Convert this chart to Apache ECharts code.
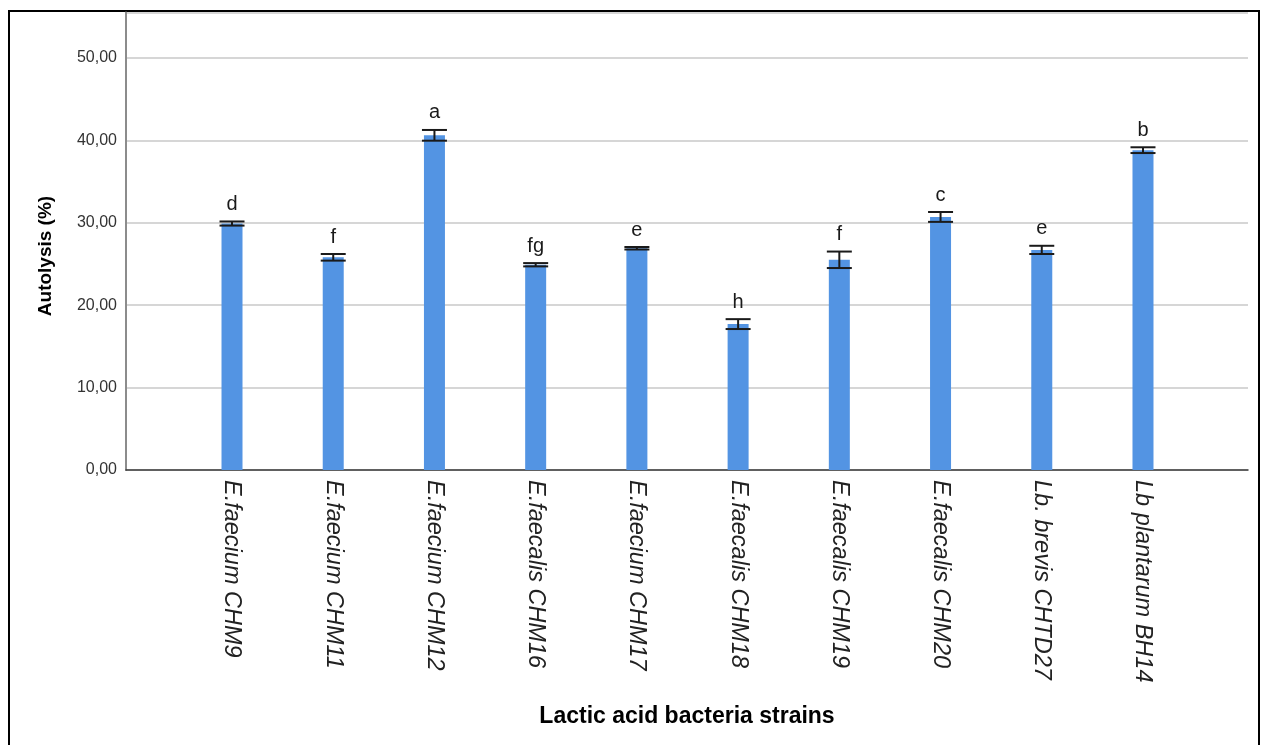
<!DOCTYPE html>
<html>
<head>
<meta charset="utf-8">
<title>Autolysis of lactic acid bacteria strains</title>
<script src="https://cdn.jsdelivr.net/npm/echarts@6/dist/echarts.min.js"></script>
<style>
  html, body { margin: 0; padding: 0; background: #ffffff; }
  #chart { width: 1266px; height: 745px; }
</style>
</head>
<body>
<div id="chart"></div>
<script>
// Strains on the x axis
const strains = [
  'E.faecium CHM9', 'E.faecium CHM11', 'E.faecium CHM12', 'E.faecalis CHM16',
  'E.faecium CHM17', 'E.faecalis CHM18', 'E.faecalis CHM19', 'E.faecalis CHM20',
  'Lb. brevis CHTD27', 'Lb plantarum BH14'
];
// Mean autolysis (%)
const autolysis = [29.9, 25.8, 40.6, 24.9, 26.9, 17.7, 25.5, 30.7, 26.7, 38.8];
// Error bar half-widths (%)
const errors = [0.25, 0.4, 0.65, 0.2, 0.15, 0.6, 1.0, 0.6, 0.5, 0.35];
// Significance letters above each bar
const groups = ['d', 'f', 'a', 'fg', 'e', 'h', 'f', 'c', 'e', 'b'];
// Y axis ticks
const yMin = 0, yMax = 55.5, yStep = 10;

const FONT = '"Liberation Sans", Arial, sans-serif';

const errorData = autolysis.map((v, i) => [i, v - errors[i], v + errors[i]]);

const chart = echarts.init(document.getElementById('chart'), null, { renderer: 'canvas' });

chart.setOption({
  animation: false,
  backgroundColor: '#ffffff',
  grid: [
    // full frame: y axis, gridlines and the baseline
    { left: 126, right: 18, top: 12.5, bottom: 275 },
    // bars sit in an inset band of categories
    { left: 181.4, right: 72.4, top: 12.5, bottom: 275 }
  ],
  xAxis: [
    {
      gridIndex: 0, type: 'value', min: 0, max: 1,
      axisLine: { show: true, onZero: false, lineStyle: { color: '#3a3a3a', width: 1.5 } },
      axisTick: { show: false }, axisLabel: { show: false }, splitLine: { show: false }
    },
    {
      gridIndex: 1, type: 'category', data: strains, boundaryGap: true,
      axisLine: { show: false }, axisTick: { show: false }, splitLine: { show: false },
      axisLabel: {
        interval: 0, rotate: -90, margin: 10,
        fontFamily: FONT, fontStyle: 'italic', fontSize: 23.5, color: '#222222'
      }
    }
  ],
  yAxis: [
    {
      gridIndex: 0, type: 'value', min: yMin, max: yMax, interval: yStep,
      axisLine: { show: true, lineStyle: { color: '#8c8c8c', width: 2 } },
      axisTick: { show: false },
      splitLine: { show: true, lineStyle: { color: '#c8c8c8', width: 1.5 } },
      axisLabel: {
        margin: 9, fontFamily: FONT, fontSize: 16, color: '#333333',
        formatter: v => (v > 50.5 ? '' : v.toFixed(2).replace('.', ','))
      }
    },
    {
      gridIndex: 1, type: 'value', min: yMin, max: yMax, interval: yStep, show: false,
      splitLine: { show: false }
    }
  ],
  series: [
    {
      type: 'bar', xAxisIndex: 1, yAxisIndex: 1,
      data: autolysis, barWidth: 21,
      itemStyle: { color: '#5394e3' },
      z: 3
    },
    {
      type: 'custom', xAxisIndex: 1, yAxisIndex: 1,
      data: errorData, z: 5,
      renderItem: function (params, api) {
        const x = api.value(0);
        const lo = api.coord([x, api.value(1)]);
        const hi = api.coord([x, api.value(2)]);
        const hw = 12.5;
        const stroke = { stroke: '#1a1a1a', lineWidth: 2 };
        return {
          type: 'group',
          children: [
            { type: 'line', shape: { x1: hi[0], y1: hi[1], x2: lo[0], y2: lo[1] }, style: stroke },
            { type: 'line', shape: { x1: hi[0] - hw, y1: hi[1], x2: hi[0] + hw, y2: hi[1] }, style: stroke },
            { type: 'line', shape: { x1: lo[0] - hw, y1: lo[1], x2: lo[0] + hw, y2: lo[1] }, style: stroke },
            {
              type: 'text',
              style: {
                x: hi[0], y: hi[1] - 7,
                text: groups[params.dataIndex],
                align: 'center', verticalAlign: 'bottom',
                fontFamily: FONT, fontSize: 20, fill: '#1a1a1a'
              }
            }
          ]
        };
      }
    }
  ],
  graphic: [
    {
      type: 'rect', silent: true,
      shape: { x: 9, y: 11, width: 1250, height: 745 },
      style: { fill: 'none', stroke: '#000000', lineWidth: 2 }
    },
    {
      type: 'text', silent: true,
      x: 46, y: 256, rotation: Math.PI / 2,
      style: {
        text: 'Autolysis (%)', align: 'center', verticalAlign: 'middle',
        fontFamily: FONT, fontWeight: 'bold', fontSize: 19, fill: '#000000'
      }
    },
    {
      type: 'text', silent: true,
      x: 687, y: 717,
      style: {
        text: 'Lactic acid bacteria strains', align: 'center', verticalAlign: 'middle',
        fontFamily: FONT, fontWeight: 'bold', fontSize: 23, fill: '#000000'
      }
    }
  ]
});
</script>
</body>
</html>
